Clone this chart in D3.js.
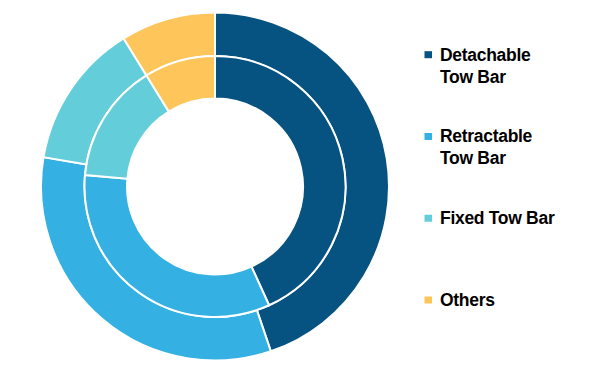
<!DOCTYPE html>
<html><head><meta charset="utf-8">
<script src="https://cdn.jsdelivr.net/npm/d3@7"></script>
<style>
html,body{margin:0;padding:0;background:#fff;}
svg{display:block;}
</style></head>
<body>
<svg id="chart" width="600" height="372"></svg>
<script>
const categories = ["Detachable Tow Bar", "Retractable Tow Bar", "Fixed Tow Bar", "Others"];
const legendLines = [["Detachable", "Tow Bar"], ["Retractable", "Tow Bar"], ["Fixed Tow Bar"], ["Others"]];
const outerValues = [44.8, 32.9, 13.5, 8.8];
const innerValues = [43.2, 33.2, 14.8, 8.8];
const colors = ["#065281", "#34b0e2", "#63ced9", "#fec65a"];

const svg = d3.select("#chart");
const cx = 215, cy = 186.5;
const g = svg.append("g").attr("transform", `translate(${cx},${cy})`);
const color = d3.scaleOrdinal().domain(categories).range(colors);
const pie = d3.pie().sort(null).value(d => d.v);

function ring(values, r0, r1) {
  const data = pie(values.map((v, i) => ({ k: categories[i], v })));
  const arc = d3.arc().innerRadius(r0).outerRadius(r1);
  g.append("g").selectAll("path").data(data).join("path")
    .attr("d", arc)
    .attr("fill", d => color(d.data.k))
    .attr("stroke", "#fff")
    .attr("stroke-width", 2);
}
ring(outerValues, 130.5, 174);
ring(innerValues, 88, 130.5);

const legendY = d3.scalePoint().domain(categories).range([60.7, 306]);
const lg = svg.append("g");
categories.forEach((c, i) => {
  const y = legendY(c);
  lg.append("rect").attr("x", 424.5).attr("y", y - 9.5).attr("width", 7.5).attr("height", 7)
    .attr("fill", color(c));
  const t = lg.append("text").attr("x", 440).attr("y", y)
    .attr("font-family", "Liberation Sans, Arial, sans-serif")
    .attr("font-weight", "bold").attr("font-size", 17.5)
    .attr("letter-spacing", -0.3)
    .attr("fill", "#000");
  legendLines[i].forEach((line, j) => {
    t.append("tspan").attr("x", 440).attr("dy", j === 0 ? 0 : 22).text(line);
  });
});
</script>
</body></html>
